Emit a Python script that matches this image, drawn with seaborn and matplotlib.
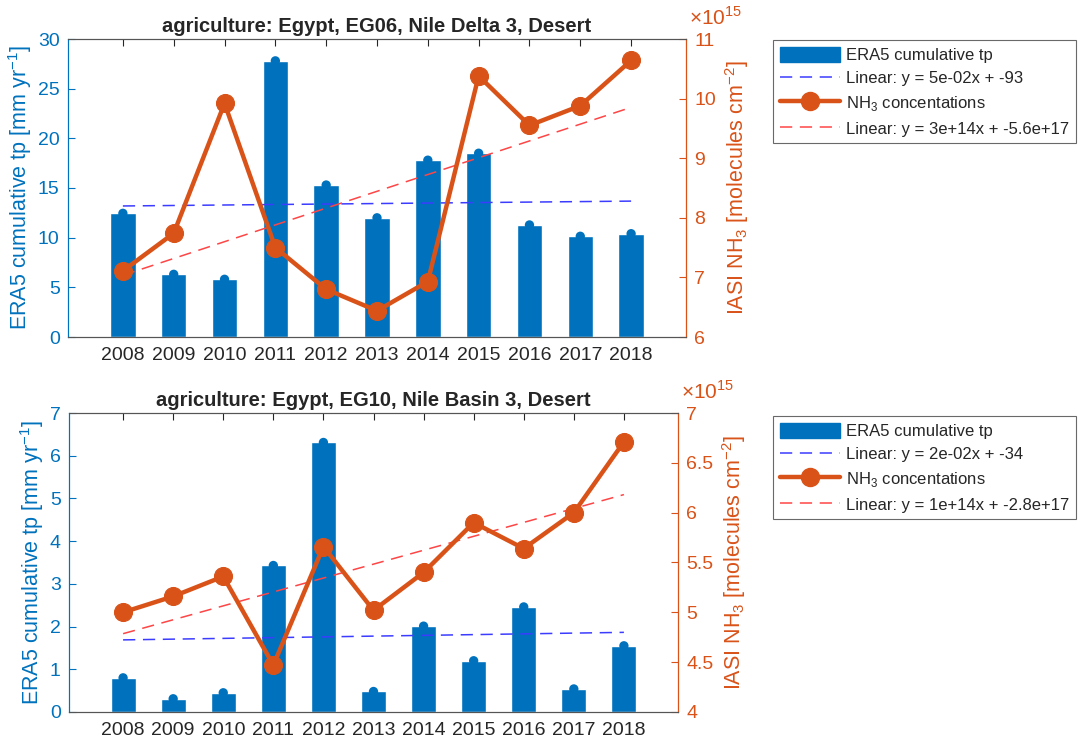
import numpy as np
import pandas as pd
import matplotlib
matplotlib.use("Agg")
import matplotlib.pyplot as plt
import seaborn as sns
from matplotlib.patches import Patch
from matplotlib.lines import Line2D

sns.set_style("white")
plt.rcParams['font.family'] = ['Liberation Sans', 'DejaVu Sans']
plt.rcParams['mathtext.fontset'] = 'custom'
plt.rcParams['mathtext.rm'] = 'Liberation Sans'

years = [2008, 2009, 2010, 2011, 2012, 2013, 2014, 2015, 2016, 2017, 2018]

# top panel
titles = ["agriculture: Egypt, EG06, Nile Delta 3, Desert",
          "agriculture: Egypt, EG10, Nile Basin 3, Desert"]
tp_top = [12.45, 6.31, 5.81, 27.8, 15.3, 12.0, 17.8, 18.5, 11.28, 10.14, 10.4]
nh3_top = [7.11, 7.74, 9.92, 7.50, 6.80, 6.44, 6.93, 10.38, 9.55, 9.88, 10.64]  # x1e15
# bottom panel
tp_bot = [0.80, 0.31, 0.45, 3.43, 6.31, 0.48, 2.01, 1.20, 2.46, 0.54, 1.55]
nh3_bot = [5.00, 5.16, 5.36, 4.47, 5.66, 5.02, 5.40, 5.90, 5.64, 6.00, 6.71]  # x1e15

tp_fit_labels = ["Linear: y = 5e-02x + -93", "Linear: y = 2e-02x + -34"]
nh3_fit_labels = ["Linear: y = 3e+14x + -5.6e+17", "Linear: y = 1e+14x + -2.8e+17"]

left_ylims = [(0, 30), (0, 7)]
left_yticks = [[0, 5, 10, 15, 20, 25, 30], [0, 1, 2, 3, 4, 5, 6, 7]]
right_ylims = [(6, 11), (4, 7)]
right_yticks = [[6, 7, 8, 9, 10, 11], [4, 4.5, 5, 5.5, 6, 6.5, 7]]
right_yticklabels = [["6", "7", "8", "9", "10", "11"],
                     ["4", "4.5", "5", "5.5", "6", "6.5", "7"]]

BLUE = "#0072BD"
ORANGE = "#D95319"
GREY = "#262626"

W, H = 1080, 742
fig = plt.figure(figsize=(W / 100, H / 100), dpi=100)

axes_px = [(68, 39, 686, 337), (69, 413, 678, 712)]
legend_px = [(773, 40), (773, 416)]

panels = [(tp_top, nh3_top), (tp_bot, nh3_bot)]

for i, (tp, nh3) in enumerate(panels):
    l, t, r, b = axes_px[i]
    ax = fig.add_axes([l / W, 1 - b / H, (r - l) / W, (b - t) / H])
    df = pd.DataFrame({"year": years, "tp": tp, "nh3": nh3})

    sns.barplot(data=df, x="year", y="tp", native_scale=True, width=0.5,
                color=BLUE, saturation=1, ax=ax, zorder=2)
    sns.scatterplot(data=df, x="year", y="tp", color=BLUE, s=45,
                    edgecolor="none", ax=ax, zorder=2)
    # linear fit for tp
    c1 = np.polyfit(years, tp, 1)
    df["tp_fit"] = np.polyval(c1, years)
    sns.lineplot(data=df, x="year", y="tp_fit", color="#3c3cff", lw=1.1,
                 ax=ax, zorder=3).lines[-1].set_dashes([8, 5])

    ax.set_xlim(2006.92, 2019.08)
    ax.set_ylim(*left_ylims[i])
    ax.set_yticks(left_yticks[i])
    ax.set_xticks(years)
    ax.set_xticklabels([str(y) for y in years])
    ax.set_xlabel("")
    ax.set_ylabel("ERA5 cumulative tp [mm yr$^{\\mathrm{-1}}$]", color=BLUE,
                  fontsize=15.5, labelpad=3)
    ax.tick_params(axis="y", colors=BLUE, direction="in", length=5,
                   labelsize=14, pad=6)
    ax.tick_params(axis="x", colors=GREY, direction="in", length=5,
                   labelsize=14, top=True, bottom=True, pad=7)
    ax.spines["left"].set_color(BLUE)
    for s in ["top", "bottom"]:
        ax.spines[s].set_color("#555555")
    ax.set_title(titles[i], fontsize=14.5, fontweight="bold", pad=5)

    ax2 = ax.twinx()
    sns.lineplot(data=df, x="year", y="nh3", color=ORANGE, lw=3.2, marker="o",
                 markersize=13, markeredgecolor=ORANGE, ax=ax2, zorder=3)
    c2 = np.polyfit(years, nh3, 1)
    df["nh3_fit"] = np.polyval(c2, years)
    sns.lineplot(data=df, x="year", y="nh3_fit", color="#ff4545", lw=1.1,
                 ax=ax2, zorder=2).lines[-1].set_dashes([8, 5])
    ax2.set_ylim(*right_ylims[i])
    ax2.set_yticks(right_yticks[i])
    ax2.set_yticklabels(right_yticklabels[i])
    ax2.set_ylabel("IASI NH$_3$ [molecules cm$^{\\mathrm{-2}}$]", color=ORANGE,
                   fontsize=15.5, labelpad=5)
    ax2.tick_params(axis="y", colors=ORANGE, direction="in", length=5,
                    labelsize=14, pad=6)
    ax2.spines["right"].set_color(ORANGE)
    ax2.spines["left"].set_color(BLUE)
    for s in ["top", "bottom"]:
        ax2.spines[s].set_color("#555555")
    ax2.text(1.005, 1.035, r"$\times$10$^{15}$", transform=ax2.transAxes,
             color=ORANGE, fontsize=15, ha="left", va="bottom")
    ax.set_xlim(2006.92, 2019.08)

    handles = [Patch(facecolor=BLUE, edgecolor=BLUE),
               Line2D([], [], color="#3c3cff", lw=1.1, dashes=[8, 5]),
               Line2D([], [], color=ORANGE, lw=3.2, marker="o", markersize=13),
               Line2D([], [], color="#ff4545", lw=1.1, dashes=[8, 5])]
    labels = ["ERA5 cumulative tp", tp_fit_labels[i],
              "NH$_3$ concentations", nh3_fit_labels[i]]
    lx, ly = legend_px[i]
    leg = fig.legend(handles, labels, loc="upper left",
                     bbox_to_anchor=(lx / W, 1 - ly / H), fontsize=12,
                     frameon=True, fancybox=False, edgecolor="#444444",
                     handlelength=3.6, handleheight=1.0, labelspacing=0.45,
                     borderpad=0.4, handletextpad=0.4, borderaxespad=0)
    leg.get_frame().set_linewidth(0.8)

fig.savefig("out.png", dpi=100)
